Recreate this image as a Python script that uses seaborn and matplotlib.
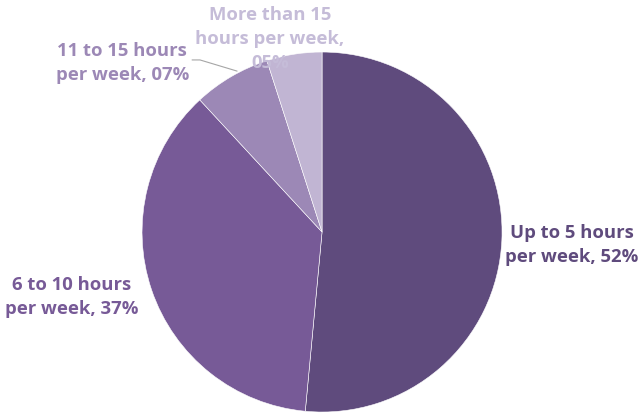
import matplotlib.pyplot as plt
import seaborn as sns

# Hours per week shares
categories = ["Up to 5 hours\nper week", "6 to 10 hours\nper week",
              "11 to 15 hours\nper week", "More than 15\nhours per week,"]
shares = [52, 37, 7, 5]
pct_text = ["52%", "37%", "07%", "05%"]

sns.set_theme(style="white")
plt.rcParams["font.family"] = ["Open Sans", "DejaVu Sans"]

colors = ["#5f4b7d", "#775a97", "#9c88b6", "#c1b5d3"]
text_colors = ["#5f4b7d", "#775a97", "#9c88b6", "#c5bcd8"]

fig = plt.figure(figsize=(6.43, 4.16), dpi=100)
ax = fig.add_axes([0, 0, 1, 1])
ax.pie(shares, colors=colors, startangle=90, counterclock=False,
       radius=1, wedgeprops=dict(edgecolor="white", linewidth=0.4))
ax.set_xlim(-1.789, 1.783)
ax.set_ylim(-1.022, 1.289)
ax.set_aspect("auto")
ax.axis("off")

# label positions in data units (pie radius = 1)
label_pos = [(1.389, -0.072), (-1.389, -0.361), (-1.11, 0.939), (-0.289, 1.072)]
for i in range(4):
    if i == 3:
        txt = categories[i] + "\n" + pct_text[i]
    else:
        txt = categories[i] + ", " + pct_text[i]
    ax.text(label_pos[i][0], label_pos[i][1], txt, ha="center", va="center",
            fontsize=13.3, fontweight="bold", color=text_colors[i], linespacing=1.42)

# leader line for the 07% label
ax.plot([-0.722, -0.678, -0.472], [0.956, 0.956, 0.894], color="#a6a6a6", lw=0.8)

fig.savefig("out.png", dpi=100)
